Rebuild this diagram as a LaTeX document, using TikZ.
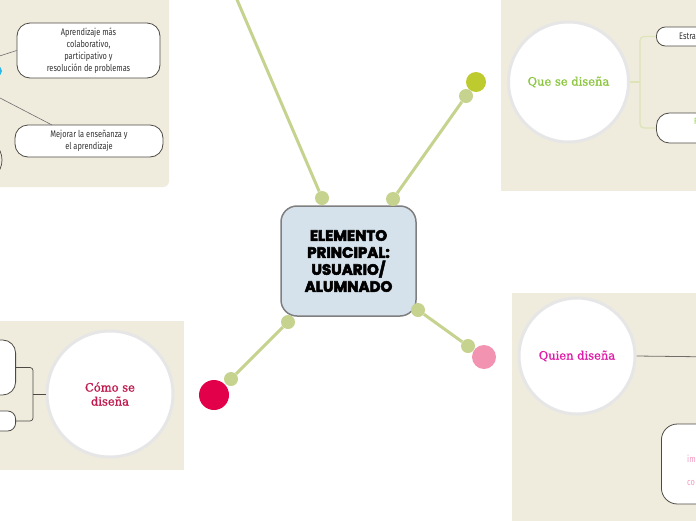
\documentclass[tikz,border=0pt]{standalone}
\usepackage{fontspec}
\setmainfont{Liberation Sans}
\newfontfamily\boxfont[FakeStretch=0.78]{Fira Sans}
\newfontfamily\heavyfont[FakeBold=3.5]{Poppins}
\newfontfamily\labfont[FakeBold=1.2]{DejaVu Serif}
\definecolor{cream}{HTML}{EFECDE}
\definecolor{conn}{HTML}{C5D38F}
\definecolor{ygreen}{HTML}{BDCB2E}
\definecolor{reddot}{HTML}{E3004A}
\definecolor{pinkdot}{HTML}{F293B1}
\definecolor{cfill}{HTML}{D5E2EB}
\definecolor{cborder}{HTML}{7F7F7F}
\definecolor{ring}{HTML}{E6E6E6}
\definecolor{tgreen}{HTML}{8CC63F}
\definecolor{tcrimson}{HTML}{C21A4F}
\definecolor{tmagenta}{HTML}{E01BA8}
\definecolor{tpink}{HTML}{F49AC1}
\definecolor{boxline}{HTML}{4D4A44}
\definecolor{lbracket}{HTML}{DCE4B8}
\definecolor{thinline}{HTML}{6E6E6E}
\definecolor{cyandot}{HTML}{29B6E8}
\begin{document}
\begin{tikzpicture}[x=1pt,y=-1pt,
  panel/.style={fill=cream,draw=none},
  conline/.style={draw=conn,line width=3pt},
  dot/.style={circle,fill=conn,inner sep=0pt,minimum size=14pt},
  topic/.style={circle,fill=white,draw=ring,line width=3pt,inner sep=0pt,align=center,font=\labfont\fontsize{11.5}{14}\selectfont},
  sub/.style={draw=boxline,fill=white,line width=0.8pt,rounded corners=13pt,align=center,inner sep=0pt,font=\boxfont\fontsize{9.5}{12}\selectfont,text=black!80},
  thin/.style={draw=thinline,line width=0.6pt},
  brk/.style={draw=boxline,line width=0.7pt,rounded corners=3pt}]
\useasboundingbox (0,0) rectangle (696,520);
\clip (0,0) rectangle (696,520);
\fill[white] (0,0) rectangle (696,520);
% panels
\fill[panel,rounded corners=6pt] (-20,-20) rectangle (169,187);
\fill[panel] (501,-20) rectangle (720,191);
\fill[panel] (-20,321) rectangle (184,470);
\fill[panel] (512,293) rectangle (720,540);

% top-left panel
\node[circle,fill=cyandot,inner sep=0pt,minimum size=10pt] (cy) at (-3,71) {};
\coordinate (hub) at (-50,72);
\node[sub,minimum width=143pt,minimum height=55pt] (b1) at (88.5,50.5) {Aprendizaje más\\colaborativo,\\participativo y\\resolución de problemas};
\node[sub,minimum width=148pt,minimum height=32pt] (b2) at (89,141) {Mejorar la enseñanza y\\el aprendizaje};
\node[circle,draw=boxline,line width=0.7pt,minimum size=44pt,inner sep=0pt] (pc) at (-20,160) {};
\coordinate (b2in) at (52,125);
\draw[thin] (hub) -- (b1.west);
\draw[thin] (hub) -- (b2in);

% central node
\node[draw=cborder,fill=cfill,line width=1.5pt,rounded corners=16pt,minimum width=135pt,minimum height=110pt,align=center,inner sep=0pt,font=\heavyfont\bfseries\fontsize{15}{17}\selectfont] (main) at (348.5,261) {ELEMENTO\\PRINCIPAL:\\USUARIO/\\ALUMNADO};

% connectors
\coordinate (topend) at (232,-12);
\node[dot] (d1) at (322,198) {};
\node[dot] (d2) at (393,199) {};
\node[dot] (d3) at (466,96) {};
\node[dot] (d4) at (288,322) {};
\node[dot] (d5) at (231,379) {};
\node[dot] (d6) at (418,310) {};
\node[dot] (d7) at (468,346) {};
\draw[conline] (topend) -- (d1);
\draw[conline] (d2) -- (d3);
\draw[conline] (d4) -- (d5);
\draw[conline] (d6) -- (d7);
\node[circle,fill=ygreen,inner sep=0pt,minimum size=20pt] (yd) at (476,82) {};
\node[circle,fill=reddot,inner sep=0pt,minimum size=30pt] (rd) at (214,395) {};
\node[circle,fill=pinkdot,inner sep=0pt,minimum size=24pt] (pd) at (484,357) {};

% top-right topic
\node[topic,minimum size=120pt,text=tgreen] (que) at (568.5,82) {Que se diseña};
\node[sub,minimum width=110pt,minimum height=19pt,rounded corners=9pt,anchor=west] (estra) at (656,36.5) {};
\node[anchor=west,font=\boxfont\fontsize{9.5}{12}\selectfont,text=black!80,inner sep=0pt] (estrat) at (679,36.5) {Estra};
\node[sub,minimum width=110pt,minimum height=30pt,anchor=west] (qb2) at (656,128) {};
\node[anchor=west,font=\boxfont\fontsize{9}{12}\selectfont,text=tgreen,inner sep=0pt] (qb2t) at (694,121) {F};
\coordinate (qj) at (640,82);
\draw[draw=lbracket,line width=1.2pt] (que.east) -- (qj);
\draw[draw=lbracket,line width=1.2pt,rounded corners=4pt] (estra.west) -| (qj) |- (qb2.west);

% bottom-left topic
\node[topic,minimum size=126pt,text=tcrimson] (como) at (110,394) {Cómo se\\diseña};
\node[sub,minimum width=76pt,minimum height=55pt,anchor=east] (ba) at (16,367.5) {};
\node[sub,minimum width=76pt,minimum height=20pt,rounded corners=8pt,anchor=east] (bb) at (16,421) {};
\coordinate (cj) at (33,394);
\draw[brk,rounded corners=0pt] (como.west) -- (cj);
\draw[brk] (ba.east) -| (cj) |- (bb.east);

% bottom-right topic
\node[topic,minimum size=116pt,text=tmagenta] (quien) at (577,356) {Quien diseña};
\coordinate (qend) at (720,357);
\draw[draw=boxline!80,line width=0.8pt] (quien.east) -- (qend);
\node[sub,minimum width=110pt,minimum height=80pt,rounded corners=16pt,anchor=west] (qbox) at (661,464) {};
\node[anchor=west,font=\boxfont\fontsize{9.5}{12}\selectfont,text=tpink,inner sep=0pt] (qim) at (687,459) {im};
\node[anchor=west,font=\boxfont\fontsize{9.5}{12}\selectfont,text=tpink,inner sep=0pt] (qco) at (687,483) {co};
\end{tikzpicture}
\end{document}
